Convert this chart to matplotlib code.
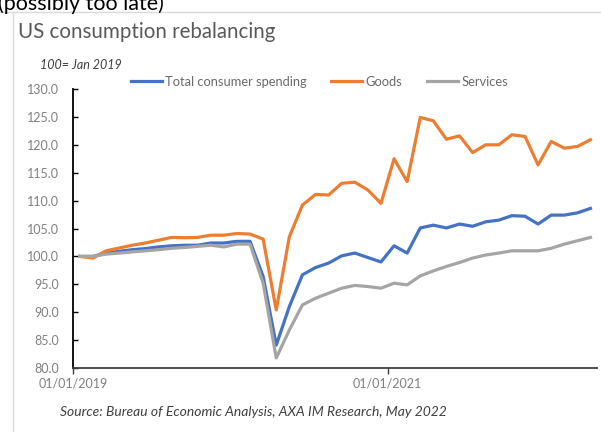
import numpy as np
import matplotlib
matplotlib.use("Agg")
import matplotlib.pyplot as plt
from matplotlib.lines import Line2D

# monthly index, Jan 2019 = 100, Jan 2019 .. Apr 2022
months = np.arange(40)
total = [100.0, 100.0, 100.6, 100.9, 101.2, 101.4, 101.7, 101.9, 102.0, 102.0,
         102.4, 102.4, 102.7, 102.7, 96.4, 84.1, 91.0, 96.7, 98.0, 98.8,
         100.1, 100.6, 99.8, 99.0, 101.9, 100.6, 105.1, 105.6, 105.1, 105.8,
         105.4, 106.2, 106.5, 107.3, 107.2, 105.8, 107.4, 107.4, 107.8, 108.6]
goods = [100.0, 99.7, 101.0, 101.5, 102.0, 102.4, 102.9, 103.4, 103.35, 103.4,
         103.8, 103.8, 104.1, 104.0, 103.1, 90.4, 103.5, 109.2, 111.1, 111.0,
         113.1, 113.3, 111.9, 109.5, 117.5, 113.4, 124.9, 124.3, 121.0, 121.6,
         118.6, 120.0, 120.0, 121.8, 121.5, 116.4, 120.6, 119.4, 119.7, 120.9]
services = [100.0, 100.0, 100.4, 100.6, 100.8, 101.0, 101.2, 101.45, 101.6, 101.8,
            102.0, 101.7, 102.2, 102.2, 95.2, 81.8, 86.8, 91.3, 92.5, 93.4,
            94.3, 94.8, 94.6, 94.3, 95.2, 94.9, 96.5, 97.4, 98.2, 98.9,
            99.7, 100.25, 100.6, 101.0, 101.0, 101.0, 101.45, 102.2, 102.8, 103.4]
series_names = ["Total consumer spending", "Goods", "Services"]
tick_pos = [0, 24]
tick_labels = ["01/01/2019", "01/01/2021"]

W, H = 601, 432
FONT = ["Lato", "DejaVu Sans"]
plt.rcParams["font.family"] = FONT


def fx(x):
    return x / W


def fy(y):
    return 1 - y / H


fig = plt.figure(figsize=(W / 100, H / 100), dpi=100)
fig.patch.set_facecolor("white")

# slide frame bits
fig.add_artist(Line2D([fx(0), fx(W)], [fy(12), fy(12)], color="#d9d9d9", lw=1))
fig.add_artist(Line2D([fx(13), fx(13)], [fy(12), fy(H)], color="#d9d9d9", lw=1))
fig.text(fx(-2), fy(10), "(possibly too late)", fontsize=15.5, color="black",
         va="baseline", ha="left")

fig.text(fx(18), fy(32), "US consumption rebalancing", fontsize=14.8,
         color="#595959", va="center", ha="left")
fig.text(fx(40), fy(65), "100= Jan 2019", fontsize=9, style="italic",
         color="#404040", va="center", ha="left")
fig.text(fx(60), fy(412), "Source: Bureau of Economic Analysis, AXA IM Research, May 2022",
         fontsize=10, style="italic", color="#404040", va="center", ha="left")

ax = fig.add_axes([fx(73.3), fy(368), fx(597 - 73.3), (368 - 89) / H])
colors = ["#4472C4", "#ED7D31", "#A5A5A5"]
x = months + 0.5
for vals, name, c in zip([total, goods, services], series_names, colors):
    ax.plot(x, vals, color=c, lw=2.3, label=name, solid_joinstyle="round")

ax.set_xlim(0, 40)
ax.set_ylim(80, 130)
ax.set_yticks(np.arange(80, 131, 5))
ax.set_yticklabels([f"{v:.1f}" for v in np.arange(80, 131, 5)])
ax.set_xticks(tick_pos)
ax.set_xticklabels(tick_labels)
ax.tick_params(axis="y", direction="in", length=3.5, width=1, pad=10,
               labelsize=9, labelcolor="#808080", color="black")
ax.tick_params(axis="x", direction="out", length=4, width=1, pad=3,
               labelsize=9, labelcolor="#808080", color="#404040")
for s in ["top", "right"]:
    ax.spines[s].set_visible(False)
ax.spines["left"].set_color("black")
ax.spines["left"].set_linewidth(1.3)
ax.spines["bottom"].set_color("#404040")
ax.spines["bottom"].set_linewidth(1.3)

leg = ax.legend(loc="center left", bbox_to_anchor=(fx(131), fy(82)),
                bbox_transform=fig.transFigure, ncol=3, frameon=False,
                fontsize=9.3, handlelength=2.4, handletextpad=0.25,
                columnspacing=1.9, labelcolor="#6a6a6a", borderaxespad=0,
                borderpad=0)

fig.savefig("out.png", dpi=100)
